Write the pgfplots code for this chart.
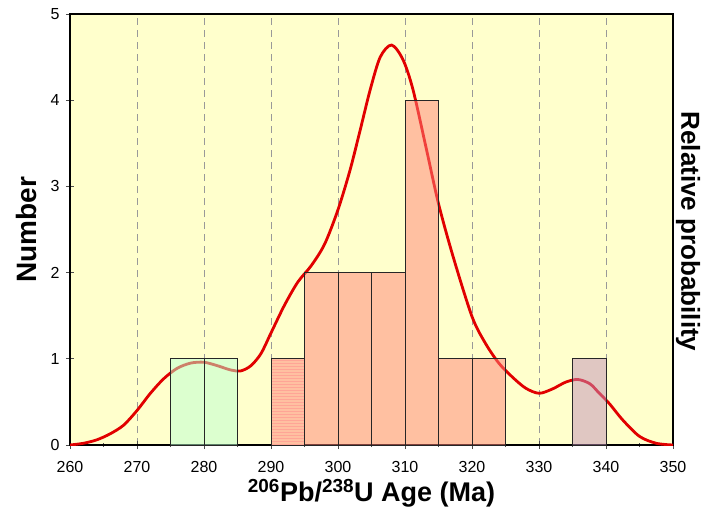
\documentclass[border=0pt]{standalone}
\usepackage{pgfplots}
\pgfplotsset{compat=1.18}
\usepackage{fontspec}
\setmainfont{Liberation Sans}
\usetikzlibrary{patterns}
\definecolor{bgyellow}{RGB}{255,255,204}
\definecolor{salmonbar}{RGB}{255,130,120}
\definecolor{greenbar}{RGB}{187,255,210}
\definecolor{pinkbar}{RGB}{195,145,186}
\definecolor{curvered}{RGB}{225,0,0}
\definecolor{stripe}{RGB}{255,165,150}
\begin{document}
\begin{tikzpicture}
\begin{axis}[
  scale only axis,
  width=603pt, height=431pt,
  xmin=260, xmax=350, ymin=0, ymax=5,
  xtick={260,270,...,350},
  ytick={0,1,...,5},
  minor x tick num=1,
  xtick pos=bottom, ytick pos=left,
  major tick length=8pt, minor tick length=4pt,
  major tick style={black!70, line width=0.8pt},
  minor tick style={black!70, line width=0.8pt},
  tick align=center,
  minor tick style={/pgfplots/tick align=inside},
  axis line style={black, line width=1.6pt},
  axis background/.style={fill=bgyellow},
  xmajorgrids,
  grid style={black!40, line width=0.9pt, dash pattern=on 7pt off 5pt},
  /pgf/number format/assume math mode=true,
  ticklabel style={font=\fontsize{16}{19}\selectfont},
  xticklabel style={yshift=-9pt},
  yticklabel style={xshift=-3pt},
  clip=true,
]
% probability curve
\addplot[curvered, line width=2.8pt, smooth] coordinates {
(260,0.0) (262,0.02) (264,0.06) (266,0.13) (268,0.23) (270,0.40) (272,0.60) (274,0.77) (276,0.89) (278,0.95) (280,0.96) (282,0.92) (284,0.87) (285.5,0.86) (287,0.92) (288.5,1.06) (290,1.30) (292,1.62) (294,1.89) (296,2.08) (298,2.33) (300,2.73) (301.8,3.19) (303.3,3.65) (304.8,4.12) (306.3,4.50) (308,4.64) (309.7,4.47) (311.2,4.12) (313.2,3.43) (315,2.80) (317.2,2.18) (320,1.49) (322,1.18) (324,0.95) (326,0.79) (328,0.66) (330,0.60) (332,0.65) (334,0.73) (335.8,0.76) (337.6,0.71) (339,0.60) (340.5,0.48) (342.5,0.29) (345,0.10) (347.5,0.02) (350,0.0)
};
% green bars
\addplot[ybar interval, fill=greenbar, fill opacity=0.5, draw=black!85, line width=0.9pt] coordinates {(275,1) (280,1) (285,1)};
% striped bar
\addplot[ybar interval, fill=salmonbar, fill opacity=0.5, draw=black!85, line width=0.9pt, postaction={pattern=horizontal lines, pattern color=stripe}] coordinates {(290,1) (295,1)};
% salmon bars
\addplot[ybar interval, fill=salmonbar, fill opacity=0.5, draw=black!85, line width=0.9pt] coordinates {(295,2) (300,2) (305,2) (310,4) (315,1) (320,1) (325,1)};
% pink bar
\addplot[ybar interval, fill=pinkbar, fill opacity=0.5, draw=black!85, line width=0.9pt] coordinates {(335,1) (340,1)};
\end{axis}
\node[rotate=90, font=\bfseries\fontsize{28}{32}\selectfont] at ([xshift=-44pt]current axis.west) {Number};
\node[rotate=-90, font=\bfseries\fontsize{26}{30}\selectfont] at ([xshift=15pt,yshift=-2pt]current axis.east) {Relative probability};
\node[font=\bfseries\fontsize{27}{31}\selectfont] at ([yshift=-48pt]current axis.south) {\textsuperscript{206}Pb/\textsuperscript{238}U Age (Ma)};
\pgfresetboundingbox
\path[use as bounding box] ([shift={(-70pt,-72pt)}]current axis.south west) rectangle ([shift={(32pt,14pt)}]current axis.north east);
\end{tikzpicture}
\end{document}
